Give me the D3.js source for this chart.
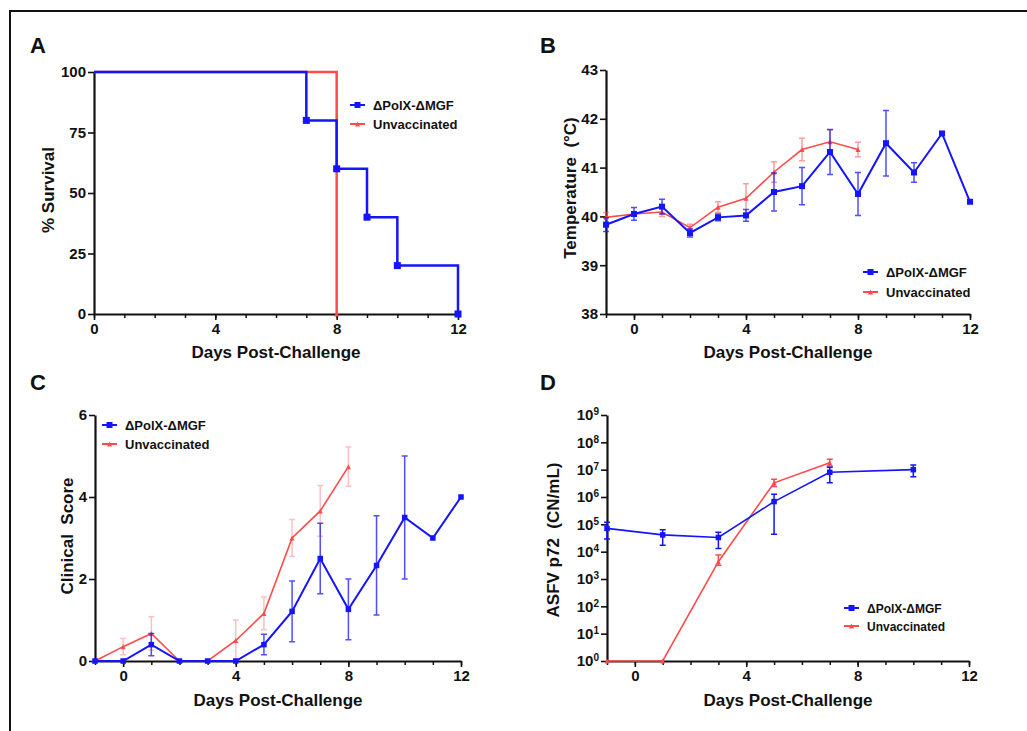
<!DOCTYPE html>
<html>
<head>
<meta charset="utf-8">
<script src="https://cdn.jsdelivr.net/npm/d3@7"></script>
<style>
  body { margin: 0; background: #fff; }
  svg text { font-family: "Liberation Sans", Arial, sans-serif; font-weight: bold; }
</style>
</head>
<body>
<svg id="chart" width="1027" height="731"></svg>
<script>
// ---- data ----
const blueName = "ΔPolX-ΔMGF";
const redName = "Unvaccinated";
const BLUE = "#1414ff";
const RED = "#ff4b4b";

// A: survival
const survDaysBlue = [0, 7, 8, 9, 10, 12];
const survBlue = [100, 80, 60, 40, 20, 0];
const survDaysRed = [0, 8];
const survRed = [100, 0];

// B: temperature (mean, sd)
const tempDaysBlue = [-1, 0, 1, 2, 3, 4, 5, 6, 7, 8, 9, 10, 11, 12];
const tempBlue = [39.83, 40.05, 40.2, 39.66, 39.98, 40.02, 40.5, 40.62, 41.32, 40.46, 41.5, 40.9, 41.7, 40.3];
const tempBlueSd = [0.14, 0.13, 0.15, 0.08, 0.07, 0.12, 0.39, 0.38, 0.46, 0.44, 0.67, 0.2, 0, 0];
const tempDaysRed = [-1, 0, 1, 2, 3, 4, 5, 6, 7, 8];
const tempRed = [39.98, 40.05, 40.09, 39.77, 40.19, 40.37, 40.91, 41.37, 41.53, 41.37];
const tempRedSd = [0.1, 0.03, 0.09, 0.07, 0.11, 0.3, 0.21, 0.23, 0.24, 0.15];

// C: clinical score (mean, sd)
const scoreDaysBlue = [-1, 0, 1, 2, 3, 4, 5, 6, 7, 8, 9, 10, 11, 12];
const scoreBlue = [0, 0, 0.4, 0, 0, 0, 0.4, 1.21, 2.5, 1.26, 2.33, 3.5, 3.0, 4.0];
const scoreBlueSd = [0, 0, 0.27, 0, 0, 0, 0.25, 0.74, 0.86, 0.74, 1.21, 1.5, 0, 0];
const scoreDaysRed = [-1, 0, 1, 2, 3, 4, 5, 6, 7, 8];
const scoreRed = [0, 0.35, 0.67, 0, 0, 0.5, 1.16, 3.0, 3.66, 4.74];
const scoreRedSd = [0, 0.2, 0.41, 0, 0, 0.5, 0.4, 0.45, 0.62, 0.48];

// D: ASFV p72 (mean, low, high)
const qpcrDaysBlue = [-1, 1, 3, 5, 7, 10];
const qpcrBlue = [7.1e4, 4.1e4, 3.3e4, 6.8e5, 8.0e6, 1.0e7];
const qpcrBlueLo = [2.9e4, 1.7e4, 1.3e4, 4.3e4, 3.3e6, 5.5e6];
const qpcrBlueHi = [1.2e5, 6.3e4, 5.1e4, 1.26e6, 1.23e7, 1.48e7];
const qpcrDaysRed = [-1, 1, 3, 5, 7];
const qpcrRed = [1, 1, 4.3e3, 3.3e6, 1.8e7];
const qpcrRedLo = [1, 1, 3.2e3, 2.4e6, 1.35e7];
const qpcrRedHi = [1, 1, 7.6e3, 4.5e6, 2.4e7];

const svg = d3.select("#chart");

// outer frame
svg.append("rect")
    .attr("x", 10).attr("y", 11)
    .attr("width", 1040).attr("height", 740)
    .attr("fill", "none").attr("stroke", "#111").attr("stroke-width", 2);

function zip(xs, ys, lo, hi) {
    return xs.map((x, i) => ({ x: x, y: ys[i], lo: lo ? lo[i] : ys[i], hi: hi ? hi[i] : ys[i] }));
}

function square(g, x, y, s, color) {
    g.append("rect").attr("x", x - s / 2).attr("y", y - s / 2)
        .attr("width", s).attr("height", s).attr("fill", color);
}
function triangle(g, x, y, s, color) {
    g.append("path")
        .attr("d", `M${x},${y - s / 2}L${x + s / 2},${y + s / 2}L${x - s / 2},${y + s / 2}Z`)
        .attr("fill", color);
}

// axes for one panel
function drawAxes(p) {
    const g = svg.append("g");
    // minor x ticks, one per day
    g.append("g")
        .attr("transform", `translate(0,${p.y.range()[0]})`)
        .call(d3.axisBottom(p.x).tickValues(d3.range(p.x.domain()[0], 13)).tickSize(4).tickFormat("").tickSizeOuter(0))
        .call(a => a.select(".domain").remove())
        .call(a => a.selectAll("line").attr("stroke", "#111").attr("stroke-width", 1.5));
    const xa = g.append("g")
        .attr("transform", `translate(0,${p.y.range()[0]})`)
        .call(d3.axisBottom(p.x).tickValues([0, 4, 8, 12]).tickSize(6).tickPadding(3).tickSizeOuter(0));
    const ya = g.append("g")
        .attr("transform", `translate(${p.x.range()[0]},0)`)
        .call(p.yAxis);
    [xa, ya].forEach(a => {
        a.select(".domain").attr("stroke", "#111").attr("stroke-width", 2.2);
        a.selectAll(".tick line").attr("stroke", "#111").attr("stroke-width", 1.6);
        a.selectAll(".tick text").attr("fill", "#111").style("font-size", "15px");
    });
    // axis titles
    const xr = p.x.range();
    svg.append("text")
        .attr("x", (xr[0] + xr[1]) / 2).attr("y", p.xtY)
        .attr("text-anchor", "middle").style("font-size", "17px").attr("fill", "#111")
        .text("Days Post-Challenge");
    svg.append("text")
        .attr("transform", `translate(${p.ytX},${p.ytY}) rotate(-90)`)
        .attr("text-anchor", "middle").style("font-size", "17px").style("white-space", "pre").attr("fill", "#111")
        .text(p.ytitle);
    svg.append("text")
        .attr("x", p.lx).attr("y", p.ly)
        .style("font-size", "22px").attr("fill", "#111")
        .text(p.letter);
    return ya;
}

function drawLegend(x, y, gap, fs) {
    const g = svg.append("g");
    [[blueName, BLUE, square], [redName, RED, triangle]].forEach((d, i) => {
        const yy = y + i * gap;
        g.append("line").attr("x1", x).attr("x2", x + 15).attr("y1", yy).attr("y2", yy)
            .attr("stroke", d[1]).attr("stroke-width", 2);
        d[2](g, x + 7.5, yy, i === 0 ? 6 : 5, d[1]);
        g.append("text").attr("x", x + 23).attr("y", yy + 4.5)
            .style("font-size", fs + "px").attr("fill", "#111").text(d[0]);
    });
}

function drawSeries(p, data, color, marker, ms, lw, errOpacity) {
    const g = svg.append("g");
    // error bars
    data.forEach(d => {
        if (d.hi === d.lo) return;
        const cx = p.x(d.x), y1 = p.y(d.hi), y2 = p.y(d.lo);
        g.append("path")
            .attr("d", `M${cx},${y1}V${y2}M${cx - 3},${y1}H${cx + 3}M${cx - 3},${y2}H${cx + 3}`)
            .attr("stroke", color).attr("stroke-width", 1.5).attr("fill", "none")
            .attr("opacity", errOpacity);
    });
    g.append("path").datum(data)
        .attr("d", d3.line().x(d => p.x(d.x)).y(d => p.y(d.y)))
        .attr("fill", "none").attr("stroke", color).attr("stroke-width", lw);
    data.forEach(d => marker(g, p.x(d.x), p.y(d.y), ms, color));
}

// ---- Panel A ----
const pA = {
    x: d3.scaleLinear().domain([0, 12]).range([94, 458]),
    y: d3.scaleLinear().domain([0, 100]).range([314, 72]),
    ytitle: "% Survival", ytX: 54, ytY: 190, xtY: 358,
    letter: "A", lx: 30, ly: 53
};
pA.yAxis = d3.axisLeft(pA.y).tickValues([0, 25, 50, 75, 100]).tickSize(6).tickPadding(2).tickSizeOuter(0);
drawAxes(pA);
{
    const stepLine = d3.line().x(d => pA.x(d.x)).y(d => pA.y(d.y)).curve(d3.curveStepAfter);
    const red = zip(survDaysRed, survRed);
    const blue = zip(survDaysBlue, survBlue);
    const g = svg.append("g");
    g.append("path").datum(red).attr("d", stepLine)
        .attr("fill", "none").attr("stroke", RED).attr("stroke-width", 2.5);
    triangle(g, pA.x(8), pA.y(0), 5, RED);
    g.append("path").datum(blue).attr("d", stepLine)
        .attr("fill", "none").attr("stroke", BLUE).attr("stroke-width", 2.5);
    blue.slice(1).forEach(d => square(g, pA.x(d.x), pA.y(d.y), 7, BLUE));
}
drawLegend(350, 105, 19, 13);

// ---- Panel B ----
const pB = {
    x: d3.scaleLinear().domain([-1, 12]).range([606, 970]),
    y: d3.scaleLinear().domain([38, 43]).range([314, 70]),
    ytitle: "Temperature  (°C)", ytX: 576, ytY: 188, xtY: 358,
    letter: "B", lx: 540, ly: 53
};
pB.yAxis = d3.axisLeft(pB.y).ticks(5).tickSize(6).tickPadding(2).tickSizeOuter(0);
drawAxes(pB);
drawSeries(pB, zip(tempDaysRed, tempRed, tempRed.map((v, i) => v - tempRedSd[i]), tempRed.map((v, i) => v + tempRedSd[i])), RED, triangle, 5, 1.6, 0.55);
drawSeries(pB, zip(tempDaysBlue, tempBlue, tempBlue.map((v, i) => v - tempBlueSd[i]), tempBlue.map((v, i) => v + tempBlueSd[i])), BLUE, square, 6, 2, 0.75);
drawLegend(863, 272, 20, 13);

// ---- Panel C ----
const pC = {
    x: d3.scaleLinear().domain([-1, 12]).range([95, 461]),
    y: d3.scaleLinear().domain([0, 6]).range([661, 415]),
    ytitle: "Clinical  Score", ytX: 73, ytY: 536, xtY: 706,
    letter: "C", lx: 30, ly: 390
};
pC.yAxis = d3.axisLeft(pC.y).tickValues([0, 2, 4, 6]).tickFormat(d3.format("d"))
    .tickSize(6).tickPadding(2).tickSizeOuter(0);
drawAxes(pC);
drawSeries(pC, zip(scoreDaysRed, scoreRed, scoreRed.map((v, i) => v - scoreRedSd[i]), scoreRed.map((v, i) => v + scoreRedSd[i])), RED, triangle, 5, 1.6, 0.35);
drawSeries(pC, zip(scoreDaysBlue, scoreBlue, scoreBlue.map((v, i) => v - scoreBlueSd[i]), scoreBlue.map((v, i) => v + scoreBlueSd[i])), BLUE, square, 5.5, 2, 0.75);
drawLegend(102, 425, 19, 13);

// ---- Panel D ----
const pD = {
    x: d3.scaleLinear().domain([-1, 12]).range([607, 969]),
    y: d3.scaleLog().domain([1, 1e9]).range([661, 415]),
    ytitle: "ASFV p72  (CN/mL)", ytX: 559, ytY: 540, xtY: 706,
    letter: "D", lx: 540, ly: 390
};
pD.yAxis = d3.axisLeft(pD.y).tickValues(d3.range(0, 10).map(e => Math.pow(10, e)))
    .tickSize(6).tickPadding(2).tickSizeOuter(0).tickFormat(() => "10");
const dAxis = drawAxes(pD);
// superscript exponents on the log axis
dAxis.selectAll(".tick text").each(function (d) {
    d3.select(this).append("tspan").attr("dy", "-0.5em").style("font-size", "10px")
        .text(Math.round(Math.log10(d)));
});
drawSeries(pD, zip(qpcrDaysRed, qpcrRed, qpcrRedLo, qpcrRedHi), RED, triangle, 5, 1.6, 1);
drawSeries(pD, zip(qpcrDaysBlue, qpcrBlue, qpcrBlueLo, qpcrBlueHi), BLUE, square, 5.5, 1.6, 1);
drawLegend(844, 608, 18, 12);
</script>
</body>
</html>
